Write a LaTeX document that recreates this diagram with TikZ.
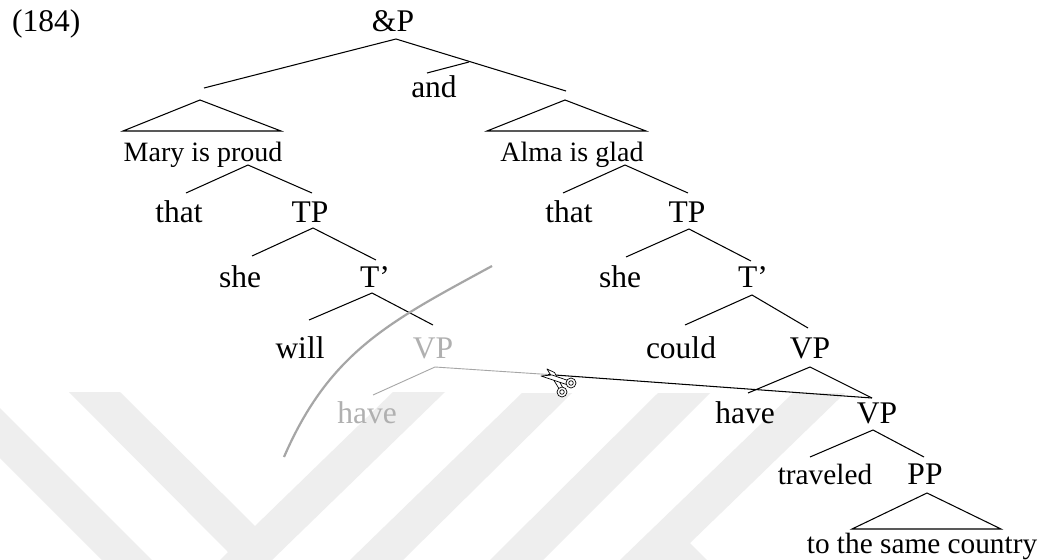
\documentclass[tikz,border=0pt]{standalone}
\usepackage{fontspec}
\setmainfont{Liberation Serif}
\definecolor{wm}{HTML}{EEEEEE}
\definecolor{fade}{HTML}{B0B0B0}
\definecolor{arcc}{HTML}{A6A6A6}
\tikzset{
  big/.style={anchor=base,inner sep=0pt,font=\fontsize{31.5}{36}\selectfont},
  small/.style={anchor=base,inner sep=0pt,font=\fontsize{28}{33}\selectfont},
  mid/.style={anchor=base,inner sep=0pt,font=\fontsize{29.3}{33}\selectfont},
  branch/.style={draw=black,line width=1.05pt},
  fadebranch/.style={draw=arcc,line width=.9pt},
  wmark/.style={fill=wm,draw=none},
  blade/.style={draw=black,fill=white,line width=.7pt,line join=round},
  ring/.style={draw=black,fill=white,line width=.7pt}
}
\begin{document}
\begin{tikzpicture}[x=1pt,y=-1pt]
\useasboundingbox (0,0) rectangle (1045,560);
\fill[white] (0,0) rectangle (1045,560);
% watermark
\fill[wmark] (0,408) -- (152,560) -- (102,560) -- (0,458) -- cycle;
\fill[wmark] (69,392) -- (120,392) -- (255,526) -- (393,392) -- (445,392) -- (272,560) -- (220,560) -- (228,552) -- cycle;
\fill[wmark] (522,393) -- (572,393) -- (403,560) -- (350,560) -- cycle;
\fill[wmark] (658,393) -- (710,393) -- (543,560) -- (490,560) -- cycle;
\fill[wmark] (793,393) -- (845,393) -- (690,543) -- (707,560) -- (620,560) -- cycle;
% labels
\node[big,anchor=base west] (ex) at (12,31) {(184)};
\node[big] (andp) at (393,31) {\&P};
\node[big] (conj) at (434,97) {and};
\node[small] (mary) at (203,161) {Mary is proud};
\node[small] (alma) at (572,161) {Alma is glad};
\node[big] (thatL) at (179,222) {that};
\node[big] (tpL) at (310,222) {TP};
\node[big] (thatR) at (569,222) {that};
\node[big] (tpR) at (687,222) {TP};
\node[big] (sheL) at (240,287) {she};
\node[big] (tbarL) at (375,287) {T’};
\node[big] (sheR) at (620,287) {she};
\node[big] (tbarR) at (753,287) {T’};
\node[big] (will) at (300,358) {will};
\node[big,text=fade] (vpL) at (433,358) {VP};
\node[big] (could) at (681,358) {could};
\node[big] (vpR) at (810,358) {VP};
\node[big,text=fade] (haveL) at (367,423) {have};
\node[big] (haveR) at (745,423) {have};
\node[big] (vpLow) at (877,423) {VP};
\node[mid] (trav) at (825,484) {traveled};
\node[big] (pp) at (925,484) {PP};
\node[mid] (country) at (922,553) {to the same country};
% branch points
\coordinate (a0) at (396,39);
\coordinate (a1) at (204,88);
\coordinate (a2) at (566,91);
\coordinate (a3) at (469,62);
\coordinate (a4) at (427,73);
\coordinate (tl0) at (200,100);
\coordinate (tl1) at (123,131);
\coordinate (tl2) at (281,131);
\coordinate (tr0) at (565,100);
\coordinate (tr1) at (487,131);
\coordinate (tr2) at (646,131);
\coordinate (m0) at (248,165);
\coordinate (m1) at (186,193);
\coordinate (m2) at (312,193);
\coordinate (n0) at (313,228);
\coordinate (n1) at (252,256);
\coordinate (n2) at (376,260);
\coordinate (o0) at (372,293);
\coordinate (o1) at (309,320);
\coordinate (o2) at (433,325);
\coordinate (p0) at (435,367);
\coordinate (p1) at (373,395);
\coordinate (cut) at (548,374.5);
\coordinate (q0) at (625,165);
\coordinate (q1) at (563,193);
\coordinate (q2) at (688,193);
\coordinate (r0) at (689,229);
\coordinate (r1) at (626,257);
\coordinate (r2) at (751,261);
\coordinate (s0) at (752,295);
\coordinate (s1) at (685,325);
\coordinate (s2) at (808,328);
\coordinate (u0) at (810,367);
\coordinate (u1) at (748,393);
\coordinate (u2) at (872,398);
\coordinate (v0) at (873,430);
\coordinate (v1) at (810,457);
\coordinate (v2) at (924,457);
\coordinate (w0) at (927,493);
\coordinate (w1) at (852,529);
\coordinate (w2) at (1001,529);
\coordinate (k0) at (492,266);
\coordinate (k1) at (391,321);
\coordinate (k2) at (330,351);
\coordinate (k3) at (284,457);
% branches
\draw[branch] (a1) -- (a0) -- (a2);
\draw[branch] (a3) -- (a4);
\draw[branch] (tl0) -- (tl1) -- (tl2) -- cycle;
\draw[branch] (tr0) -- (tr1) -- (tr2) -- cycle;
\draw[branch] (m1) -- (m0) -- (m2);
\draw[branch] (n1) -- (n0) -- (n2);
\draw[branch] (o1) -- (o0) -- (o2);
\draw[branch] (q1) -- (q0) -- (q2);
\draw[branch] (r1) -- (r0) -- (r2);
\draw[branch] (s1) -- (s0) -- (s2);
\draw[branch] (u1) -- (u0) -- (u2);
\draw[branch] (v1) -- (v0) -- (v2);
\draw[branch] (w0) -- (w1) -- (w2) -- cycle;
\draw[fadebranch] (p1) -- (p0) -- (cut);
\draw[branch] (cut) -- (u2);
% cut line
\draw[draw=arcc,line width=2.2pt] (k0) .. controls (k1) and (k2) .. (k3);
% scissors
\draw[blade] (547,369) -- (554.5,372.5) -- (563,388) -- (559.5,389.5) -- cycle;
\draw[blade] (541,376) -- (552,375) -- (568,380.5) -- (566.5,384.5) -- cycle;
\draw[ring] (571,383) circle (5pt);
\draw[ring] (571,383) circle (2.3pt);
\draw[ring] (562,392) circle (5pt);
\draw[ring] (562,392) circle (2.3pt);
\end{tikzpicture}
\end{document}
